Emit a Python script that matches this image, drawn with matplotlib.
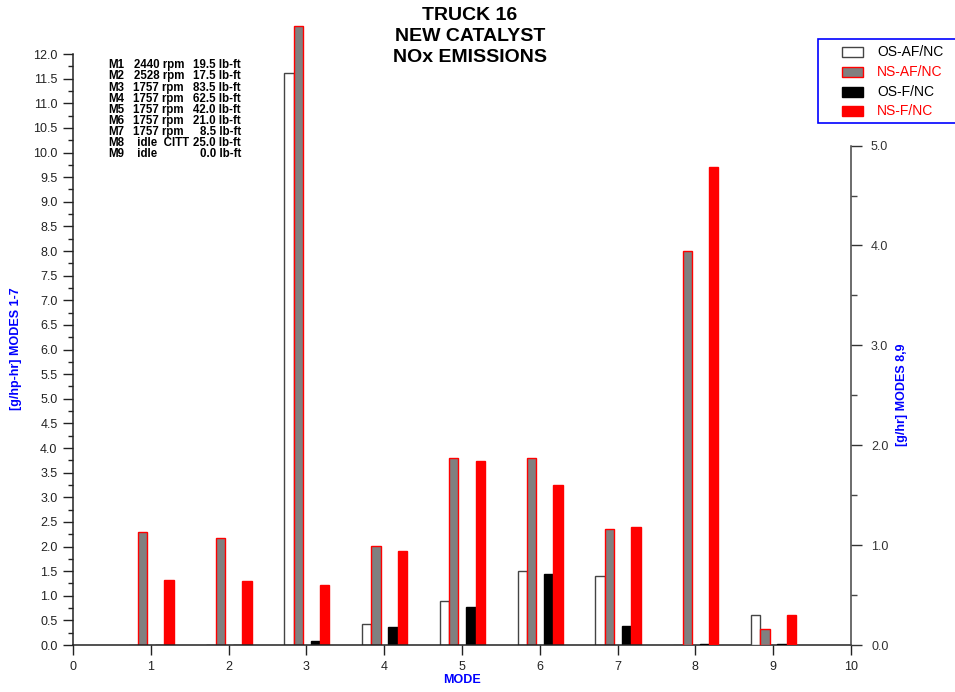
import numpy as np
import matplotlib
matplotlib.use("Agg")
import matplotlib.pyplot as plt
from matplotlib.patches import Rectangle

plt.rcParams["font.family"] = ["Liberation Sans", "DejaVu Sans"]

# values; modes 1-7 in g/hp-hr, modes 8,9 in g/hr
modes = [1, 2, 3, 4, 5, 6, 7, 8, 9]
os_af = [0.0, 0.0, 11.62, 0.43, 0.89, 1.50, 1.40, 0.0, 0.30]
ns_af = [2.29, 2.17, 12.57, 2.02, 3.79, 3.80, 2.36, 3.94, 0.16]
os_f = [0.0, 0.0, 0.08, 0.37, 0.77, 1.45, 0.39, 0.01, 0.01]
ns_f = [1.32, 1.30, 1.21, 1.91, 3.74, 3.25, 2.40, 4.79, 0.30]
series_names = ["OS-AF/NC", "NS-AF/NC", "OS-F/NC", "NS-F/NC"]

mode_names = ["M1", "M2", "M3", "M4", "M5", "M6", "M7", "M8", "M9"]
mode_speed = ["2440 rpm", "2528 rpm", "1757 rpm", "1757 rpm", "1757 rpm",
              "1757 rpm", "1757 rpm", " idle  CITT", " idle"]
mode_torque = ["19.5 lb-ft", "17.5 lb-ft", "83.5 lb-ft", "62.5 lb-ft", "42.0 lb-ft",
               "21.0 lb-ft", "8.5 lb-ft", "25.0 lb-ft", "0.0 lb-ft"]

W, H = 955, 692
fig = plt.figure(figsize=(W / 100, H / 100), dpi=100)


def fx(x):
    return x / W


def fy(y):
    return 1 - y / H


ax = fig.add_axes([fx(73), fy(645), (851 - 73) / W, (645 - 22) / H])
ax2 = ax.twinx()

left_top = 12.65
ax.set_xlim(0, 10)
ax.set_ylim(0, left_top)
ax2.set_ylim(0, left_top * 5.0 / 10.14)

offsets = [-0.225, -0.105, 0.115, 0.235]
width = 0.12
styles = [
    dict(facecolor="white", edgecolor="#444444"),
    dict(facecolor="#808080", edgecolor="red"),
    dict(facecolor="black", edgecolor="black"),
    dict(facecolor="red", edgecolor="red"),
]

x = np.array(modes)
left = x <= 7
for vals, off, st in zip([os_af, ns_af, os_f, ns_f], offsets, styles):
    v = np.array(vals)
    ax.bar(x[left] + off, v[left], width, linewidth=1, **st)
    ax2.bar(x[~left] + off, v[~left], width, linewidth=1, **st)

# spines
ax.spines[["top", "right"]].set_visible(False)
ax2.spines[["top", "left", "bottom"]].set_visible(False)
ax.spines["left"].set_bounds(0, 12)
ax2.spines["right"].set_bounds(0, 5)
for sp in [ax.spines["left"], ax.spines["bottom"]]:
    sp.set_color("#222222")
    sp.set_linewidth(1.1)
ax2.spines["right"].set_color("#444444")
ax2.spines["right"].set_linewidth(1.1)

# ticks
ax.set_xticks(range(0, 11))
ax.tick_params(axis="x", length=7.2, width=1, pad=4.5, labelsize=9, colors="#222222")
ax.set_yticks(np.arange(0, 12.01, 0.5))
ax.set_yticks(np.arange(0, 12.01, 0.25), minor=True)
ax.set_yticklabels([f"{t:.1f}" for t in np.arange(0, 12.01, 0.5)])
ax.tick_params(axis="y", which="major", length=7.2, width=1, pad=4, labelsize=9, colors="#222222")
ax.tick_params(axis="y", which="minor", length=3.6, width=1, colors="#222222")
ax2.set_yticks(np.arange(0, 5.01, 1.0))
ax2.set_yticks(np.arange(0, 5.01, 0.5), minor=True)
ax2.set_yticklabels([f"{t:.1f}" for t in np.arange(0, 5.01, 1.0)])
ax2.tick_params(axis="y", which="major", length=7.9, width=1, pad=6.5, labelsize=9, colors="#333333")
ax2.tick_params(axis="y", which="minor", length=4, width=1, colors="#444444")

# axis labels
fig.text(fx(462), fy(680), "MODE", color="blue", fontsize=9, fontweight="bold",
         ha="center", va="center")
fig.text(fx(15.5), fy(349), "[g/hp-hr] MODES 1-7", color="blue", fontsize=9,
         fontweight="bold", rotation=90, ha="center", va="center")
fig.text(fx(902), fy(395), "[g/hr] MODES 8,9", color="blue", fontsize=9,
         fontweight="bold", rotation=90, ha="center", va="center")

# title
for txt, yb in zip(["TRUCK 16", "NEW CATALYST", "NOx EMISSIONS"], [20, 40.7, 61.7]):
    fig.text(fx(470), fy(yb), txt, fontsize=14, fontweight="bold", ha="center", va="baseline")

# mode descriptions
rows_y = [68.3, 79.3, 91, 102.3, 113.3, 124, 135, 146, 157]
for name, spd, trq, yb in zip(mode_names, mode_speed, mode_torque, rows_y):
    fig.text(fx(108), fy(yb), name, fontsize=8.3, fontweight="bold", va="baseline")
    if "rpm" in spd:
        fig.text(fx(184), fy(yb), spd, fontsize=8.3, fontweight="bold", va="baseline", ha="right")
    else:
        fig.text(fx(134), fy(yb), spd, fontsize=8.3, fontweight="bold", va="baseline")
    fig.text(fx(241), fy(yb), trq, fontsize=8.3, fontweight="bold", va="baseline", ha="right")

# legend box
fig.patches.append(Rectangle((fx(818), fy(123)), fx(960) - fx(818), (123 - 39) / H,
                             transform=fig.transFigure, facecolor="white",
                             edgecolor="blue", linewidth=1.2, zorder=5))
label_colors = ["black", "red", "black", "red"]
for name, st, col, yc in zip(series_names, styles, label_colors, [51.7, 71.7, 91.7, 111.3]):
    fig.patches.append(Rectangle((fx(842), fy(yc + 5)), 21 / W, 10 / H,
                                 transform=fig.transFigure, linewidth=1, zorder=6, **st))
    fig.text(fx(877), fy(yc), name, color=col, fontsize=10, va="center", zorder=7)

fig.savefig("out.png", dpi=100)
